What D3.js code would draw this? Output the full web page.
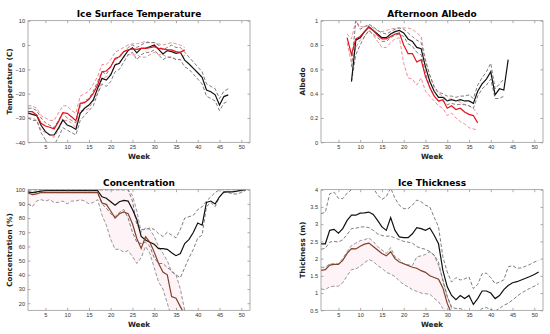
<!DOCTYPE html>
<html>
<head>
<meta charset="utf-8">
<script src="https://cdn.jsdelivr.net/npm/d3@7"></script>
<style>
  body { margin: 0; background: #fff; }
  svg { font-family: "DejaVu Sans", sans-serif; }
</style>
</head>
<body>
<div id="chart"></div>
<script>
// ---- data ----
const weekTicks = [5, 10, 15, 20, 25, 30, 35, 40, 45, 50];

// Ice surface temperature, weeks 1..47 (black) and 1..37 (red)
const tempTicks = [-40, -30, -20, -10, 0, 10];
const tempBlack = [-28,-28.5,-29,-33,-35.6,-37,-37,-34.2,-30.8,-32.9,-33.6,-34.7,-28.1,-26,-24.7,-22.6,-17.8,-13.7,-14.4,-12.3,-8.2,-7.5,-4.8,-2.3,-1.1,-3.2,-1.4,-1.4,-0.7,0,-1.8,-3.7,-2.3,-2.7,-3.4,-3,-6.2,-7.8,-9.6,-11.4,-13.3,-18.5,-19.2,-20.5,-24.7,-21.2,-20.5];
const tempBlackHi = [-26,-26,-27,-30,-32,-33,-34,-31,-28,-30,-31,-32,-25,-23,-22,-19,-15,-11,-12,-9,-6,-5,-3,-1,0,-1,0,1,1,1,0,-2,-1,0,-1,-1,-3,-5,-7,-9,-11,-16,-17,-18,-22,-19,-18];
const tempBlackLo = [-30,-31,-31,-36,-39,-41,-41,-38,-34,-35,-36,-37,-31,-29,-27,-25,-20,-16,-17,-15,-11,-10,-7,-4,-3,-6,-4,-3,-3,-2,-4,-6,-5,-5,-6,-6,-9,-10,-12,-14,-16,-21,-22,-23,-27,-24,-23];
const tempRed = [-27.4,-27.4,-28.8,-32.2,-33.3,-33.8,-34.5,-31.5,-27.8,-28.1,-29.5,-31.1,-24,-23.7,-22.3,-19.9,-16.4,-11,-10.7,-8.9,-5.5,-4.8,-2.7,-2,-1.6,-1.8,-1.4,-1.4,-1.1,-0.7,-1.4,-1.6,-2,-2,-2.7,-3,-2];
const tempRedHi = [-25,-25,-26,-29,-30,-31,-31,-28,-25,-25,-27,-28,-21,-20,-19,-16,-13,-8,-8,-6,-3,-2,-1,0,0.5,0.5,1,1.5,1,1,0.5,0,0.5,1,0.5,0,-1];
const tempRedLo = [-30,-30,-31,-35,-36,-37,-38,-35,-31,-31,-32,-34,-27,-27,-26,-23,-20,-14,-13,-12,-8,-7,-5,-4,-4,-4,-5,-5,-4,-3,-4,-4,-5,-5,-6,-6,-4];

// Afternoon albedo, weeks 8..44 (black) and 7..37 (red)
const albTicks = [0, 0.2, 0.4, 0.6, 0.8, 1];
const albBlack = [0.50,0.84,0.86,0.91,0.95,0.92,0.89,0.86,0.86,0.89,0.91,0.92,0.90,0.85,0.83,0.78,0.77,0.62,0.50,0.42,0.37,0.37,0.34,0.35,0.34,0.35,0.34,0.34,0.32,0.42,0.48,0.52,0.58,0.39,0.44,0.43,0.68];
const albBlackHi = [0.62,1.0,0.93,0.95,0.97,0.95,0.92,0.90,0.89,0.91,0.93,0.94,0.93,0.90,0.87,0.84,0.82,0.67,0.55,0.46,0.41,0.40,0.38,0.38,0.37,0.38,0.38,0.39,0.36,0.47,0.53,0.58,0.65,0.44,0.48,0.52,null];
const albBlackLo = [0.50,0.72,0.80,0.87,0.92,0.89,0.86,0.83,0.83,0.86,0.88,0.89,0.87,0.81,0.79,0.74,0.72,0.57,0.45,0.38,0.34,0.34,0.31,0.32,0.31,0.31,0.31,0.30,0.28,0.38,0.44,0.47,0.52,0.36,0.36,0.38,null];
const albRed = [0.86,0.72,0.85,0.87,0.91,0.945,0.92,0.88,0.85,0.85,0.87,0.89,0.90,0.80,0.73,0.73,0.66,0.68,0.54,0.45,0.38,0.34,0.35,0.28,0.30,0.27,0.28,0.25,0.23,0.22,0.16];
const albRedHi = [0.89,0.85,1.0,0.95,0.95,0.96,0.94,0.92,0.91,0.92,0.93,0.94,0.94,0.94,0.94,0.93,0.90,0.87,0.68,0.55,0.45,0.40,0.38,0.35,0.36,0.34,0.33,0.31,0.30,0.28,0.23];
const albRedLo = [0.82,0.65,0.78,0.84,0.87,0.92,0.88,0.83,0.78,0.78,0.82,0.85,0.86,0.65,0.53,0.52,0.47,0.53,0.42,0.38,0.34,0.30,0.28,0.22,0.24,0.20,0.17,0.15,0.12,0.11,0.10];

// Concentration (%), weeks 1..51 (black) and 1..37 (brown)
const concTicks = [20, 30, 40, 50, 60, 70, 80, 90, 100];
const concBlack = [98.5,98,98.5,99,99.3,99.3,99.3,99.3,99.3,99.3,99.3,99.3,99.3,99.3,99.3,99.3,99.3,95,94,91.5,89,91.5,92.5,92,86,79,67,64.5,63,61.5,58.5,58.5,58,55.5,53.5,55,62,65,70,76.5,75,91,92,90,95,98.5,98.5,98.5,99,99.5,100];
const concBlackHi = [100,100,100,100,100,100,100,100,100,100,100,100,100,100,100,100,100,100,100,100,100,100,100,100,92,75,72,72,73,72,69,67,70,68,66,72,80,81,82,86,88,92,95,98,100,100,100,100,100,100,100];
const concBlackLo = [98,98,98,98,98,98,98,98,98,98,98,98,98,98,98,98,98,90,87,83,81,84,86,80,70,63,62,63,60,52,48,48,45,43,40,38,45,52,58,66,68,88,91,88,95,98,98,97,97,98,99.5];
const concRed = [97.7,96.5,97,98,98,98,98,98,98,98,98,98,98,98,98,98,98,90.6,89.7,85,80,83,84.3,83,76,65.6,58.6,66.8,63,56,48,42,40,24.7,23.5,17.6,12];
const concRedHi = [100,100,100,100,100,100,100,100,100,100,100,100,100,100,100,100,100,100,100,100,100,100,100,100,96,85,70,73,72,67,60,55,50,42,40,30,15];
const concRedLo = [90,88,92,93,92,93,91,91,92,90,92,92,93,92,90,91,93,82,75,65,58,58,56,57,53,48,52,60,55,45,35,30,20,10,5,3,2];

// Ice thickness (m), weeks 1..51 (black) and 1..31 (brown)
const thickTicks = [0.5, 1, 1.5, 2, 2.5, 3, 3.5, 4];
const thickBlack = [2.43,2.43,2.82,2.85,2.74,2.87,3.11,3.26,3.26,3.32,3.33,3.35,3.28,3.11,2.92,2.82,3.19,2.82,2.63,2.61,2.61,2.72,2.9,2.87,2.82,2.89,2.68,2.43,1.66,1.18,0.93,0.81,0.93,0.84,0.93,0.67,0.84,1.06,1.06,1.0,0.84,0.93,1.1,1.22,1.3,1.33,1.38,1.43,1.48,1.54,1.61];
const thickBlackHi = [3.3,3.35,3.88,3.93,3.75,3.74,3.9,4.0,4.2,4.3,4.3,4.3,4.05,3.85,3.72,3.8,4.05,3.75,3.55,3.45,3.45,3.55,3.7,3.65,3.55,3.5,3.2,2.92,2.05,1.61,1.32,1.45,1.38,1.41,1.47,1.13,1.25,1.56,1.58,1.45,1.27,1.32,1.38,1.76,1.8,1.72,1.73,1.78,1.83,1.9,1.95];
const thickBlackLo = [2.27,2.3,2.48,2.5,2.48,2.55,2.7,2.87,2.88,2.92,2.92,2.9,2.82,2.72,2.67,2.65,2.65,2.6,2.55,2.5,2.48,2.45,2.35,2.3,2.27,2.2,2.1,1.9,1.35,0.9,0.6,0.55,0.55,0.5,0.45,0.3,0.45,0.55,0.58,0.52,0.48,0.55,0.65,0.7,0.8,0.9,1.0,1.07,1.14,1.2,1.27];
const thickRed = [1.66,1.68,1.81,1.83,1.83,1.95,2.15,2.29,2.28,2.36,2.42,2.45,2.35,2.25,2.15,2.08,2.2,2.0,1.9,1.85,1.8,1.75,1.72,1.65,1.6,1.5,1.45,1.4,1.15,0.7,0.4];
const thickRedHi = [1.75,1.75,1.85,1.85,1.85,2.0,2.2,2.38,2.45,2.52,2.55,2.6,2.5,2.35,2.25,2.15,2.32,2.05,1.98,1.85,1.82,1.8,2.05,2.08,2.12,2.2,2.1,1.8,1.4,0.9,0.55];
const thickRedLo = [1.12,1.1,1.18,1.2,1.2,1.3,1.5,1.68,1.7,1.78,1.88,1.97,1.92,1.8,1.72,1.6,1.55,1.48,1.35,1.25,1.18,1.1,1.05,1.0,0.98,0.97,0.85,0.75,0.55,0.4,0.3];

// ---- layout ----
const width = 550, height = 334;
const svg = d3.select("#chart").append("svg")
    .attr("width", width).attr("height", height);

const tickFmt = d3.format("~g");

const panels = [
  { title: "Ice Surface Temperature", ylabel: "Temperature (C)",
    box: { left: 28, right: 250, top: 20.7, bottom: 142.3 },
    ydom: [-40, 10], yticks: tempTicks,
    mean: [1, tempBlack, 1, tempRed], hi: [tempBlackHi, tempRedHi], lo: [tempBlackLo, tempRedLo],
    red: "#e3121b", redDash: "#ec7f8a", band: false },
  { title: "Afternoon Albedo", ylabel: "Albedo",
    box: { left: 321, right: 543, top: 20.7, bottom: 142.3 },
    ydom: [0, 1], yticks: albTicks,
    mean: [8, albBlack, 7, albRed], hi: [albBlackHi, albRedHi], lo: [albBlackLo, albRedLo],
    red: "#e3121b", redDash: "#ec7f8a", band: false },
  { title: "Concentration", ylabel: "Concentration (%)",
    box: { left: 28, right: 250, top: 189.7, bottom: 310.3 },
    ydom: [15, 100], yticks: concTicks,
    mean: [1, concBlack, 1, concRed], hi: [concBlackHi, concRedHi], lo: [concBlackLo, concRedLo],
    red: "#80402a", redDash: "#8a8a8a", band: true },
  { title: "Ice Thickness", ylabel: "Thickness (m)",
    box: { left: 321, right: 543, top: 189.7, bottom: 310.3 },
    ydom: [0.5, 4], yticks: thickTicks,
    mean: [1, thickBlack, 1, thickRed], hi: [thickBlackHi, thickRedHi], lo: [thickBlackLo, thickRedLo],
    red: "#80402a", redDash: "#8a8a8a", band: true }
];

panels.forEach((p, i) => {
  const b = p.box;
  const x = d3.scaleLinear().domain([1, 52]).range([b.left, b.right]);
  const y = d3.scaleLinear().domain(p.ydom).range([b.bottom, b.top]);
  const g = svg.append("g");

  const clipId = "clip" + i;
  svg.append("clipPath").attr("id", clipId)
    .append("rect")
    .attr("x", b.left).attr("y", b.top)
    .attr("width", b.right - b.left).attr("height", b.bottom - b.top);

  const toPts = (start, vals) => vals.map((v, k) => ({ w: start + k, v: v }));
  const line = d3.line().defined(d => d.v != null).x(d => x(d.w)).y(d => y(d.v));

  const plot = g.append("g").attr("clip-path", `url(#${clipId})`);
  const [bStart, bVals, rStart, rVals] = p.mean;

  // faint pink spread band for the model series
  if (p.band) {
    const bandPts = p.hi[1].map((v, k) => ({ w: rStart + k, hi: v, lo: p.lo[1][k] }));
    plot.append("path")
      .datum(bandPts)
      .attr("fill", "#fdeef2")
      .attr("opacity", 0.7)
      .attr("d", d3.area().x(d => x(d.w)).y0(d => y(d.lo)).y1(d => y(d.hi)));
  }

  // dashed bounds
  const dash = [
    { vals: p.hi[1], start: rStart, color: p.redDash },
    { vals: p.lo[1], start: rStart, color: p.redDash },
    { vals: p.hi[0], start: bStart, color: "#6e6e6e" },
    { vals: p.lo[0], start: bStart, color: "#6e6e6e" }
  ];
  dash.forEach(s => {
    plot.append("path")
      .datum(toPts(s.start, s.vals))
      .attr("fill", "none")
      .attr("stroke", s.color)
      .attr("stroke-width", 0.9)
      .attr("stroke-dasharray", "3.5,2")
      .attr("d", line);
  });

  // solid means
  plot.append("path")
    .datum(toPts(bStart, bVals))
    .attr("fill", "none").attr("stroke", "#111").attr("stroke-width", 1.2)
    .attr("d", line);
  plot.append("path")
    .datum(toPts(rStart, rVals))
    .attr("fill", "none").attr("stroke", p.red).attr("stroke-width", 1.2)
    .attr("d", line);

  // axes (ticks inside, MATLAB style)
  g.append("g")
    .attr("transform", `translate(0,${b.bottom})`)
    .call(d3.axisBottom(x).tickValues(weekTicks).tickSizeInner(-2.5).tickSizeOuter(0).tickPadding(2.5));
  g.append("g")
    .attr("transform", `translate(${b.left},0)`)
    .call(d3.axisLeft(y).tickValues(p.yticks).tickFormat(tickFmt).tickSizeInner(-2.5).tickSizeOuter(0).tickPadding(3));
  g.append("g")
    .attr("transform", `translate(0,${b.top})`)
    .call(d3.axisTop(x).tickValues(weekTicks).tickSizeInner(-2.5).tickSizeOuter(0).tickFormat(""));
  g.append("g")
    .attr("transform", `translate(${b.right},0)`)
    .call(d3.axisRight(y).tickValues(p.yticks).tickSizeInner(-2.5).tickSizeOuter(0).tickFormat(""));

  g.selectAll(".domain").remove();
  g.selectAll(".tick line").attr("stroke", "#777").attr("stroke-width", 0.6);
  g.selectAll(".tick text").attr("fill", "#333").attr("font-size", "5.6px");

  g.append("rect")
    .attr("x", b.left).attr("y", b.top)
    .attr("width", b.right - b.left).attr("height", b.bottom - b.top)
    .attr("fill", "none").attr("stroke", "#8a8a8a").attr("stroke-width", 0.7);

  // labels
  const cx = (b.left + b.right) / 2;
  g.append("text")
    .attr("x", cx).attr("y", b.top - 3.6)
    .attr("text-anchor", "middle")
    .attr("font-size", "9px").attr("font-weight", "bold")
    .text(p.title);
  g.append("text")
    .attr("x", cx).attr("y", b.bottom + 16.5)
    .attr("text-anchor", "middle")
    .attr("font-size", "7.2px").attr("font-weight", "bold")
    .attr("fill", "#222")
    .text("Week");
  g.append("text")
    .attr("transform", `translate(${b.left - 16.5},${(b.top + b.bottom) / 2}) rotate(-90)`)
    .attr("text-anchor", "middle")
    .attr("font-size", "7.2px").attr("font-weight", "bold")
    .attr("fill", "#222")
    .text(p.ylabel);
});
</script>
</body>
</html>
